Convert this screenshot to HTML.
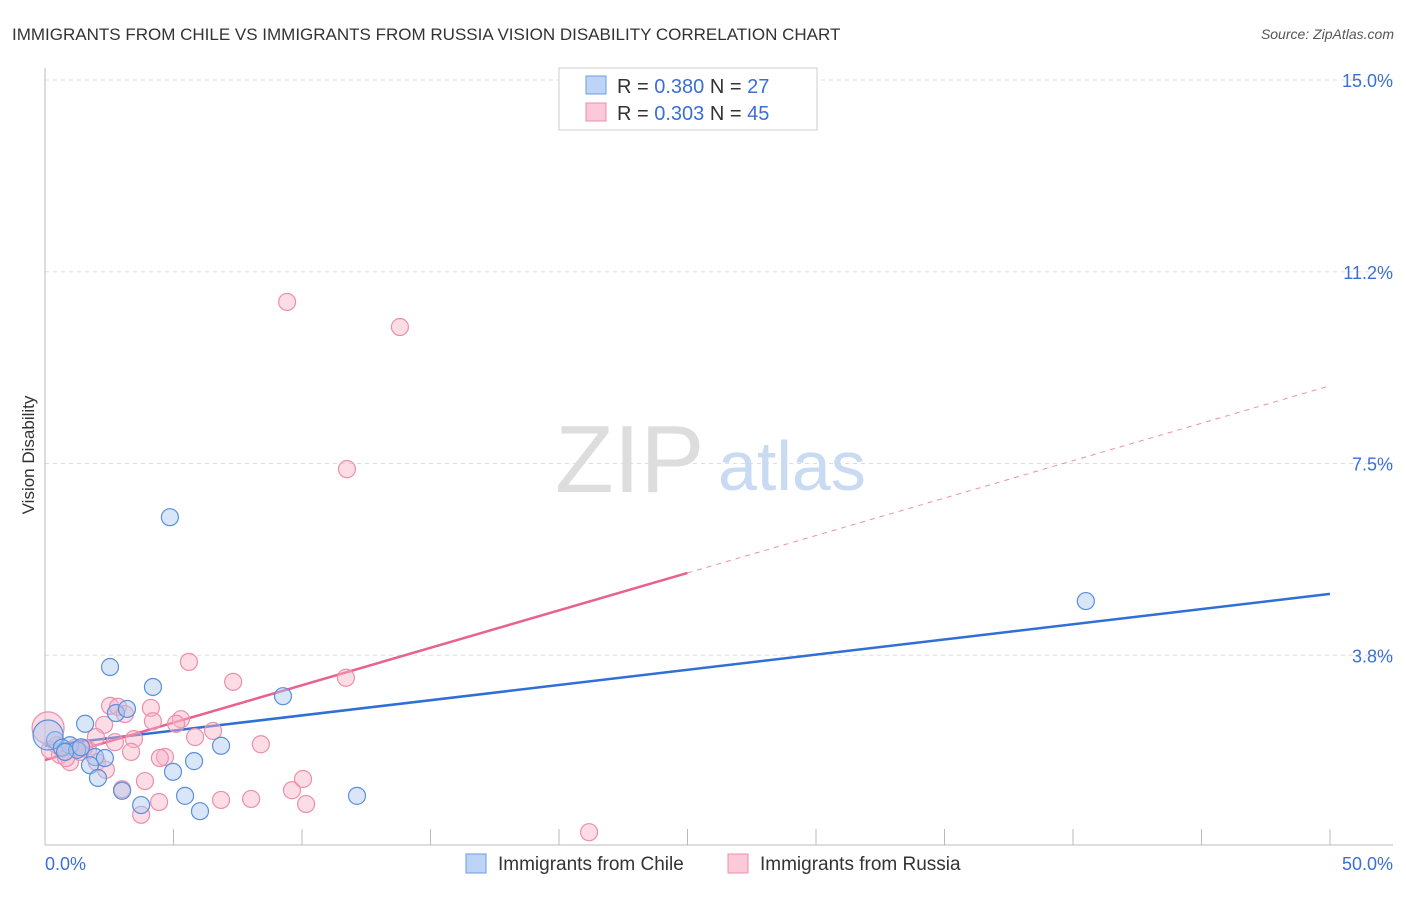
<!DOCTYPE html>
<html><head><meta charset="utf-8"><style>
body{margin:0;background:#fff;font-family:"Liberation Sans",sans-serif}
svg text{font-family:"Liberation Sans",sans-serif}
</style></head><body>
<svg id="chart" width="1406" height="892" xmlns="http://www.w3.org/2000/svg">
<text x="12" y="40" font-size="17" fill="#333">IMMIGRANTS FROM CHILE VS IMMIGRANTS FROM RUSSIA VISION DISABILITY CORRELATION CHART</text>
<text x="1394" y="39" font-size="14" fill="#555" font-style="italic" text-anchor="end">Source: ZipAtlas.com</text>
<text x="34" y="455" font-size="17" fill="#333" text-anchor="middle" transform="rotate(-90 34 455)">Vision Disability</text>
<g id="grid"></g>
<text x="555" y="492" font-size="96" fill="#ddd" font-family="Liberation Serif">ZIP</text>
<text x="718" y="490" font-size="70" fill="#c9daf3">atlas</text>
<g id="lines"></g>
<g id="points"></g>
<g>
<rect x="559" y="68" width="258" height="62" fill="#fff" stroke="#ccc"/>
<rect x="586" y="76" width="20" height="18" fill="#bcd4f6" stroke="#6d9be0"/>
<rect x="586" y="103" width="20" height="18" fill="#fbc9d8" stroke="#ec8fac"/>
<text x="617" y="93" font-size="20" fill="#333">R = <tspan fill="#3a6fd8">0.380</tspan>   N = <tspan fill="#3a6fd8">27</tspan></text>
<text x="617" y="120" font-size="20" fill="#333">R = <tspan fill="#3a6fd8">0.303</tspan>   N = <tspan fill="#3a6fd8">45</tspan></text>
</g>
<text x="45" y="870" font-size="18" fill="#3a6fd8">0.0%</text>
<text x="1393" y="870" font-size="18" fill="#3a6fd8" text-anchor="end">50.0%</text>
<rect x="466" y="854" width="20" height="19" fill="#bcd4f6" stroke="#6d9be0"/>
<text x="498" y="870" font-size="19" fill="#333">Immigrants from Chile</text>
<rect x="728" y="854" width="20" height="19" fill="#fbc9d8" stroke="#ec8fac"/>
<text x="760" y="870" font-size="19" fill="#333">Immigrants from Russia</text>
</svg>
<script>
const yTicks=[15.0,11.25,7.5,3.75];
const yTickLabels=["15.0%","11.2%","7.5%","3.8%"];
const chileX=[2.53,4.2,4.86,1.56,2.76,3.19,0.39,0.97,1.95,2.33,1.75,2.06,3.0,3.74,4.98,5.45,6.03,5.8,6.85,9.26,12.14,40.5,0.12,0.66,1.25,0.78,1.4];
const chileY=[3.52,3.13,6.45,2.41,2.62,2.70,2.09,1.99,1.76,1.74,1.60,1.35,1.10,0.82,1.47,1.0,0.70,1.68,1.98,2.95,1.0,4.81,2.19,1.94,1.90,1.86,1.95];
const russiaX=[9.42,13.81,11.75,5.6,7.32,11.71,2.53,2.84,4.12,3.11,4.2,5.29,5.1,2.3,1.98,3.46,5.84,6.54,8.4,2.72,3.35,4.67,4.47,2.02,0.97,1.67,1.52,0.58,3.89,3.0,4.44,3.74,6.85,8.02,9.61,10.04,10.16,21.17,0.12,0.47,1.17,1.36,0.82,0.19,2.37];
const russiaY=[10.66,10.17,7.39,3.62,3.23,3.31,2.76,2.74,2.72,2.60,2.46,2.50,2.41,2.39,2.15,2.11,2.15,2.27,2.01,2.05,1.86,1.76,1.74,1.66,1.66,1.90,1.94,1.80,1.29,1.13,0.88,0.63,0.92,0.94,1.11,1.33,0.84,0.29,2.33,1.99,1.94,1.86,1.74,1.90,1.51];
const chileTrend=[1.98,4.95];
const russiaTrend=[1.70,9.02];
const russiaSolidEnd=25;
const xs=v=>45+v*25.7, ys=v=>847-v*51.13;
const NS="http://www.w3.org/2000/svg";
function mk(t,a,p){const e=document.createElementNS(NS,t);for(const k in a)e.setAttribute(k,a[k]);p.appendChild(e);return e;}
const grid=document.getElementById('grid');
yTicks.forEach((v,i)=>{
 const l=mk('line',{x1:45,x2:1393,y1:ys(v),y2:ys(v),stroke:'#ddd','stroke-dasharray':'4,4'},grid);
 
 
 const t=mk('text',{x:1393,y:ys(v)+7,'font-size':18,fill:'#3a6fd8','text-anchor':'end'},grid);
 t.textContent=yTickLabels[i];
 
 
});
const ax=mk('line',{x1:45,x2:45,y1:68,y2:845,stroke:'#bbb'},grid);


const bx=mk('line',{x1:45,x2:1393,y1:845,y2:845,stroke:'#bbb'},grid);


for(let i=1;i<=10;i++){const t=mk('line',{x1:xs(i*5),x2:xs(i*5),y1:829,y2:845,stroke:'#bbb'},grid);
 
 }
const lines=document.getElementById('lines');
const ld=(a,b,x0,x1)=>a+(b-a)*(x1-x0)/50;
let e=mk('line',{x1:xs(0),y1:ys(chileTrend[0]),x2:xs(50),y2:ys(chileTrend[1]),stroke:'#2f6fd6','stroke-width':2.5},lines);


const rm=russiaTrend[0]+(russiaTrend[1]-russiaTrend[0])*russiaSolidEnd/50;
e=mk('line',{x1:xs(0),y1:ys(russiaTrend[0]),x2:xs(russiaSolidEnd),y2:ys(rm),stroke:'#e8628e','stroke-width':2.5},lines);


e=mk('line',{x1:xs(russiaSolidEnd),y1:ys(rm),x2:xs(50),y2:ys(russiaTrend[1]),stroke:'#ec8fac','stroke-width':1,'stroke-dasharray':'5,5'},lines);


const pts=document.getElementById('points');
russiaX.forEach((x,i)=>{const c=mk('circle',{cx:xs(x),cy:ys(russiaY[i]),r:i==38?16:8.5,fill:'rgba(248,180,200,0.45)',stroke:'#ec8fac','stroke-width':1.2},pts);
 
 });
chileX.forEach((x,i)=>{const c=mk('circle',{cx:xs(x),cy:ys(chileY[i]),r:i==22?15:8.5,fill:'rgba(170,200,240,0.45)',stroke:'#5a8fdc','stroke-width':1.2},pts);
 
 });
</script>
</body></html>
